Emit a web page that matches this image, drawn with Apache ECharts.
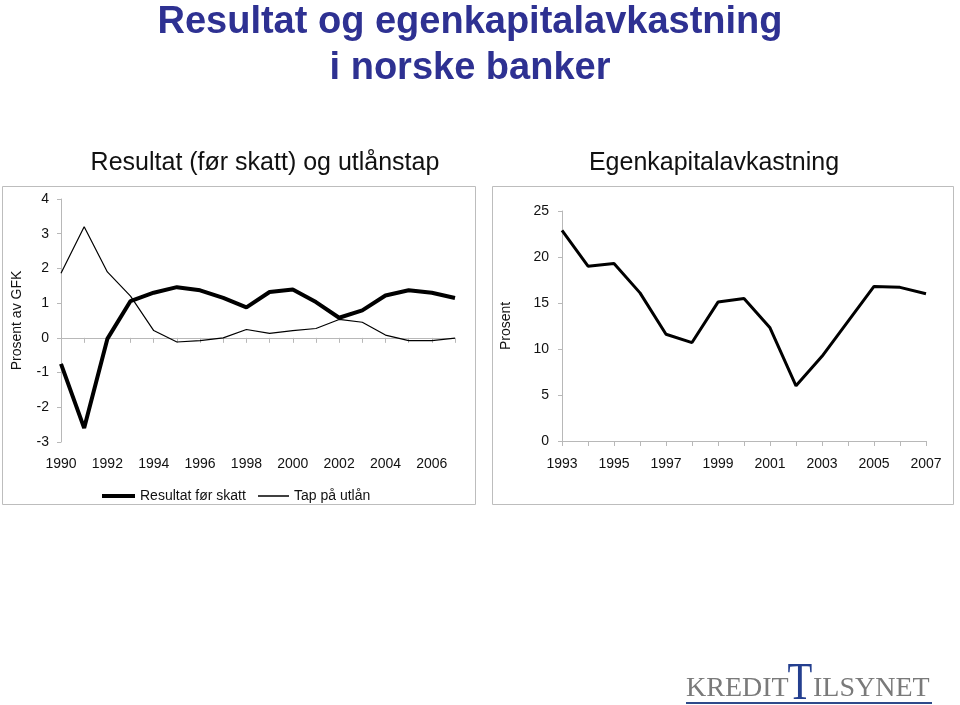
<!DOCTYPE html>
<html>
<head>
<meta charset="utf-8">
<script src="https://cdn.jsdelivr.net/npm/echarts@6/dist/echarts.min.js"></script>
<style>
html,body{margin:0;padding:0;background:#fff;}
#c{width:960px;height:705px;}
</style>
</head>
<body>
<div id="c"></div>
<script>
// Left chart: Resultat (før skatt) og utlånstap, prosent av GFK
var yearsLeft = ['1990','1991','1992','1993','1994','1995','1996','1997','1998','1999','2000','2001','2002','2003','2004','2005','2006','2007'];
var resultatForSkatt = [-0.75, -2.6, -0.03, 1.06, 1.30, 1.46, 1.37, 1.15, 0.88, 1.32, 1.39, 1.03, 0.58, 0.79, 1.22, 1.37, 1.30, 1.15];
var tapPaUtlan = [1.86, 3.2, 1.90, 1.2, 0.21, -0.12, -0.08, 0.0, 0.24, 0.13, 0.21, 0.27, 0.53, 0.45, 0.08, -0.08, -0.08, -0.01];
// Right chart: Egenkapitalavkastning, prosent
var yearsRight = ['1993','1994','1995','1996','1997','1998','1999','2000','2001','2002','2003','2004','2005','2006','2007'];
var egenkapitalavkastning = [22.9, 19.0, 19.3, 16.1, 11.6, 10.7, 15.1, 15.5, 12.3, 6.0, 9.2, 13.0, 16.8, 16.7, 16.0];

var FONT = '"Liberation Sans", Arial, sans-serif';
var SERIF = '"Liberation Serif", "Times New Roman", serif';
var axisGray = '#b8b8b8';
var lbl = {fontFamily: FONT, fontSize: 14, color: '#111'};
var legendText = {fontFamily: FONT, fontSize: 14, color: '#111'};

var chart = echarts.init(document.getElementById('c'), null, {renderer: 'canvas'});
chart.setOption({
  backgroundColor: '#ffffff',
  animation: false,
  title: [
    {text: 'Resultat og egenkapitalavkastning\ni norske banker', left: 465, top: -5, textAlign: 'center',
     textStyle: {fontFamily: FONT, fontSize: 38, fontWeight: 'bold', color: '#2e3192', lineHeight: 46}},
    {text: 'Resultat (før skatt) og utlånstap', left: 260, top: 146, textAlign: 'center',
     textStyle: {fontFamily: FONT, fontSize: 25, fontWeight: 'normal', color: '#111'}},
    {text: 'Egenkapitalavkastning', left: 709, top: 146, textAlign: 'center',
     textStyle: {fontFamily: FONT, fontSize: 25, fontWeight: 'normal', color: '#111'}}
  ],
  legend: [
    {data: ['Resultat før skatt'], left: 97, top: 484, icon: 'rect', itemWidth: 33, itemHeight: 4,
     textStyle: legendText},
    {data: ['Tap på utlån'], left: 253, top: 484, icon: 'rect', itemWidth: 31, itemHeight: 1.5,
     textStyle: legendText}
  ],
  grid: [
    {left: 61, top: 199, width: 394, height: 243},
    {left: 562, top: 211, width: 364, height: 230}
  ],
  xAxis: [
    {type: 'category', gridIndex: 0, data: yearsLeft, boundaryGap: false, position: 'bottom',
     axisLine: {show: false, onZero: false}, axisTick: {show: false},
     axisLabel: Object.assign({interval: 1, margin: 15}, lbl)},
    {type: 'category', gridIndex: 0, data: yearsLeft, boundaryGap: false, position: 'bottom',
     axisLine: {show: true, onZero: true, lineStyle: {color: axisGray, width: 1}},
     axisTick: {show: true, interval: 0, length: 5, lineStyle: {color: axisGray}},
     axisLabel: {show: false}},
    {type: 'category', gridIndex: 1, data: yearsRight, boundaryGap: false,
     axisLine: {show: true, lineStyle: {color: axisGray, width: 1}},
     axisTick: {show: true, interval: 0, length: 5, lineStyle: {color: axisGray}},
     axisLabel: Object.assign({interval: 1, margin: 16}, lbl)}
  ],
  yAxis: [
    {type: 'value', gridIndex: 0, min: -3, max: 4, interval: 1,
     name: 'Prosent av GFK', nameLocation: 'middle', nameRotate: 90, nameGap: 37,
     nameTextStyle: {fontFamily: FONT, fontSize: 14, color: '#111'},
     axisLine: {show: true, lineStyle: {color: axisGray}},
     axisTick: {show: true, length: 4, lineStyle: {color: axisGray}},
     splitLine: {show: false},
     axisLabel: Object.assign({margin: 12}, lbl)},
    {type: 'value', gridIndex: 1, min: 0, max: 25, interval: 5,
     name: 'Prosent', nameLocation: 'middle', nameRotate: 90, nameGap: 49,
     nameTextStyle: {fontFamily: FONT, fontSize: 14, color: '#111'},
     axisLine: {show: true, lineStyle: {color: axisGray}},
     axisTick: {show: true, length: 4, lineStyle: {color: axisGray}},
     splitLine: {show: false},
     axisLabel: Object.assign({margin: 13}, lbl)}
  ],
  series: [
    {name: 'Resultat før skatt', type: 'line', xAxisIndex: 0, yAxisIndex: 0, data: resultatForSkatt,
     symbol: 'none', lineStyle: {color: '#000', width: 4}, itemStyle: {color: '#000'}, z: 3},
    {name: 'Tap på utlån', type: 'line', xAxisIndex: 0, yAxisIndex: 0, data: tapPaUtlan,
     symbol: 'none', lineStyle: {color: '#000', width: 1.2}, itemStyle: {color: '#000'}, z: 2},
    {name: 'Egenkapitalavkastning', type: 'line', xAxisIndex: 2, yAxisIndex: 1, data: egenkapitalavkastning,
     symbol: 'none', lineStyle: {color: '#000', width: 3}, itemStyle: {color: '#000'}}
  ],
  graphic: [
    {type: 'rect', shape: {x: 2.5, y: 186.5, width: 473, height: 318}, style: {fill: 'none', stroke: '#bdbdbd', lineWidth: 1}, silent: true, z: -1},
    {type: 'rect', shape: {x: 492.5, y: 186.5, width: 461, height: 318}, style: {fill: 'none', stroke: '#bdbdbd', lineWidth: 1}, silent: true, z: -1},
    {type: 'text', x: 686, y: 689, style: {text: 'KREDIT', font: '28px ' + SERIF, fill: '#7a7a7a', verticalAlign: 'middle', align: 'left'}},
    {type: 'text', x: 800, y: 685, scaleX: 0.78, style: {text: 'T', font: '52px ' + SERIF, fill: '#243f8f', verticalAlign: 'middle', align: 'center'}},
    {type: 'text', x: 813, y: 689, style: {text: 'ILSYNET', font: '28px ' + SERIF, fill: '#7a7a7a', verticalAlign: 'middle', align: 'left'}},
    {type: 'rect', shape: {x: 686, y: 702, width: 246, height: 2}, style: {fill: '#2e4a8a'}}
  ]
});
</script>
</body>
</html>
